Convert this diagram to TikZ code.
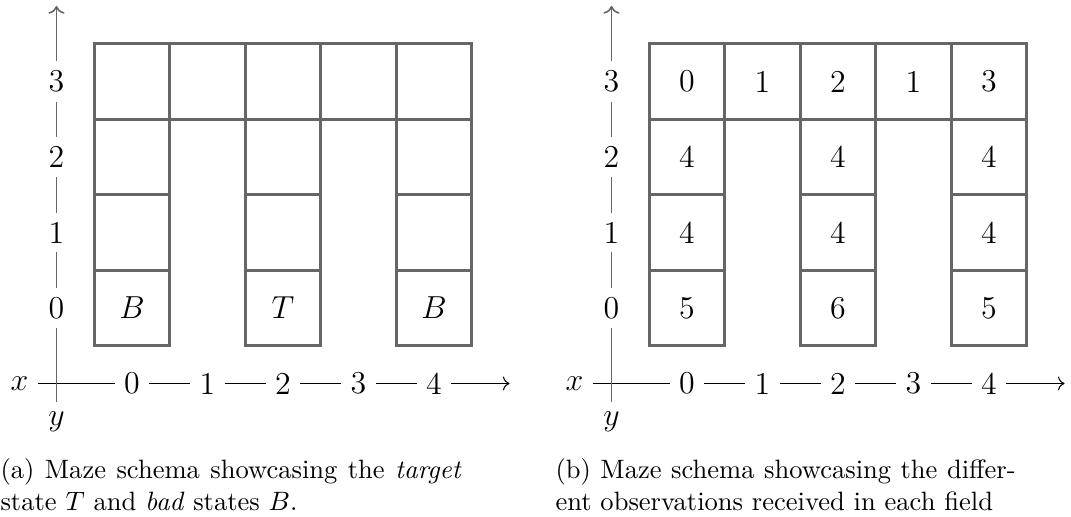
\documentclass[tikz,border=0pt]{standalone}
\usepackage{amsmath,amssymb}
\usepackage{tikz}
\usetikzlibrary{positioning, arrows.meta}

\begin{document}
\begin{tikzpicture}[
    node distance=1cm,
    on grid,
    field/.style={draw=black!60, very thick, minimum size=1cm, inner sep=0pt, font=\large},
    axlabel/.style={font=\large},
    yaxis/.style={draw=black!60, semithick},
    subcap/.style={text width=173.4pt, align=justify, inner sep=0pt, anchor=base west}
]
\useasboundingbox (-1.748,-2.768) rectangle (12.437,4.079);

% (a) 目标状态和坏状态
\begin{scope}
% 迷宫格子
\foreach \c in {0,...,4}
    \node[field] (a-\c-3) at (\c,3) {};
\foreach \c/\s in {0/B,2/T,4/B} {
    \node[field] (a-\c-0) at (\c,0) {$\s$};
    \node[field] (a-\c-1) at (\c,1) {};
    \node[field] (a-\c-2) at (\c,2) {};
}

% 坐标轴
\foreach \i in {0,...,4}
    \node[axlabel] (a-x\i) at (\i,-1) {\i};
\foreach \i in {0,...,3}
    \node[axlabel] (a-y\i) at (-1,\i) {\i};
\node[axlabel, anchor=east] (a-x) at (-1.25,-1) {$x$};
\node[axlabel, anchor=north] (a-y) at (-1,-1.25) {$y$};
\coordinate[right=of a-x4] (a-xend);
\coordinate[above=of a-y3] (a-yend);

\draw[->] (a-x) -- (a-x0) -- (a-x1) -- (a-x2) -- (a-x3) -- (a-x4) -- (a-xend);
\draw[->, yaxis] (a-y) -- (a-y0) -- (a-y1) -- (a-y2) -- (a-y3) -- (a-yend);

% 图注
\node[subcap] (a-cap) at (-1.748,-2.265)
    {(a) Maze schema showcasing the \emph{target} state $T$ and \emph{bad} states $B$.};
\end{scope}

% (b) 每个格子的观测
\begin{scope}[xshift=7.351cm]
% 迷宫格子
\foreach \c/\o in {0/0,1/1,2/2,3/1,4/3}
    \node[field] (b-\c-3) at (\c,3) {\o};
\foreach \c/\o in {0/5,2/6,4/5} {
    \node[field] (b-\c-0) at (\c,0) {\o};
    \node[field] (b-\c-1) at (\c,1) {4};
    \node[field] (b-\c-2) at (\c,2) {4};
}

% 坐标轴
\foreach \i in {0,...,4}
    \node[axlabel] (b-x\i) at (\i,-1) {\i};
\foreach \i in {0,...,3}
    \node[axlabel] (b-y\i) at (-1,\i) {\i};
\node[axlabel, anchor=east] (b-x) at (-1.25,-1) {$x$};
\node[axlabel, anchor=north] (b-y) at (-1,-1.25) {$y$};
\coordinate[right=of b-x4] (b-xend);
\coordinate[above=of b-y3] (b-yend);

\draw[->] (b-x) -- (b-x0) -- (b-x1) -- (b-x2) -- (b-x3) -- (b-x4) -- (b-xend);
\draw[->, yaxis] (b-y) -- (b-y0) -- (b-y1) -- (b-y2) -- (b-y3) -- (b-yend);

% 图注
\node[subcap] (b-cap) at (-1.748,-2.265)
    {(b) Maze schema showcasing the differ-\linebreak ent observations received in each field};
\end{scope}

\end{tikzpicture}
\end{document}
